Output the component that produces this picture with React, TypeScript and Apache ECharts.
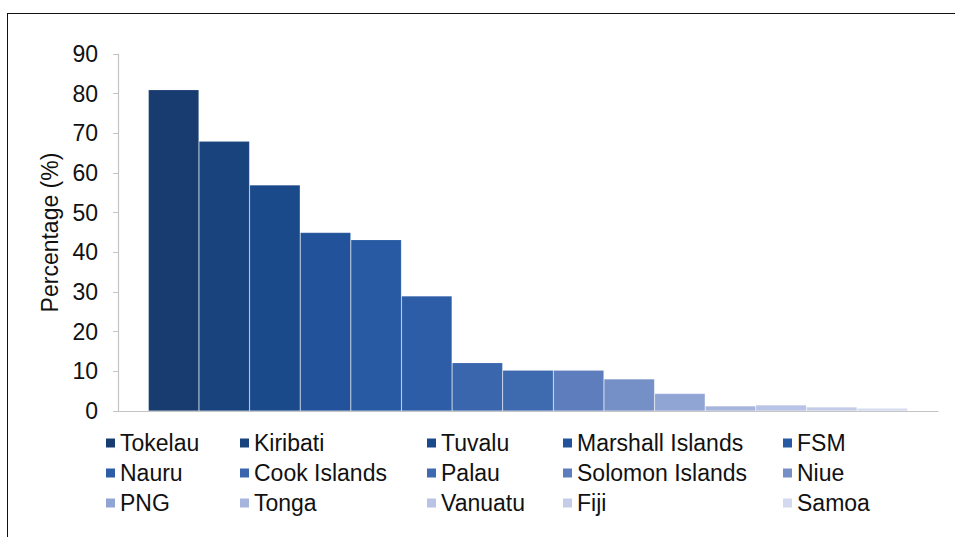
import React, { useEffect, useRef } from "react";
import * as echarts from "echarts";

const countries = [
  "Tokelau",
  "Kiribati",
  "Tuvalu",
  "Marshall Islands",
  "FSM",
  "Nauru",
  "Cook Islands",
  "Palau",
  "Solomon Islands",
  "Niue",
  "PNG",
  "Tonga",
  "Vanuatu",
  "Fiji",
  "Samoa",
];

const percentages = [81, 68, 57, 45, 43.2, 29, 12.2, 10.3, 10.3, 8.1, 4.4, 1.3, 1.5, 1.0, 0.7];

const yMin = 0;
const yMax = 90;
const yStep = 10;

const palette = [
  "#183c70",
  "#18437c",
  "#1b4a8b",
  "#22529a",
  "#2859a3",
  "#2e5da7",
  "#3a66ae",
  "#3e6ab0",
  "#5d7dbd",
  "#7590c6",
  "#91a5d5",
  "#a6b4de",
  "#b9c3e5",
  "#c5cce8",
  "#d3d9ee",
];

const FONT = "Liberation Sans, Arial, sans-serif";
const TEXT = "#111111";
const FS = 23;

export default function App() {
  const ref = useRef<HTMLDivElement>(null);

  useEffect(() => {
    if (!ref.current) return;
    const chart = echarts.init(ref.current, null, { renderer: "svg" });
    const legendLefts = [106, 240, 427, 563, 783];
    chart.setOption({
      animation: false,
      grid: { left: 118, right: 17, top: 54, bottom: 126 },
      xAxis: {
        type: "category",
        data: [""],
        axisLine: { show: true, lineStyle: { color: "#c4c4c4", width: 1.2 } },
        axisTick: { show: false },
        axisLabel: { show: false },
        splitLine: { show: false },
      },
      yAxis: {
        type: "value",
        min: yMin,
        max: yMax,
        interval: yStep,
        name: "Percentage (%)",
        nameLocation: "middle",
        nameGap: 54,
        nameTextStyle: { fontFamily: FONT, fontSize: FS, color: TEXT },
        axisLine: { show: true, lineStyle: { color: "#c4c4c4", width: 1.2 } },
        axisTick: { show: true, length: 5, lineStyle: { color: "#c4c4c4" } },
        axisLabel: { margin: 20, fontFamily: FONT, fontSize: FS, color: TEXT },
        splitLine: { show: false },
      },
      legend: legendLefts.map((left, c) => ({
        orient: "vertical",
        left,
        top: 431.5,
        padding: 0,
        itemGap: 7,
        itemWidth: 9,
        itemHeight: 9,
        icon: "rect",
        selectedMode: false,
        itemStyle: { borderWidth: 0 },
        textStyle: { fontFamily: FONT, fontSize: FS, color: TEXT, lineHeight: 23 },
        data: countries.filter((_, i) => i % 5 === c),
      })),
      series: countries.map((name, i) => ({
        type: "bar",
        name,
        data: [percentages[i]],
        barGap: "0%",
        barCategoryGap: "7.4%",
        itemStyle: {
          color: palette[i],
          borderColor: "rgba(255,255,255,0.25)",
          borderWidth: 0.6,
        },
      })),
    });
    return () => chart.dispose();
  }, []);

  return (
    <div
      style={{
        position: "absolute",
        left: 0,
        top: 0,
        width: 955,
        height: 537,
        overflow: "hidden",
        background: "#ffffff",
      }}
    >
      <div
        style={{
          position: "absolute",
          left: 7,
          top: 12.5,
          width: 1000,
          height: 600,
          border: "1.6px solid #111",
          boxSizing: "border-box",
        }}
      />
      <div ref={ref} style={{ position: "absolute", left: 0, top: 0, width: 955, height: 537 }} />
    </div>
  );
}
